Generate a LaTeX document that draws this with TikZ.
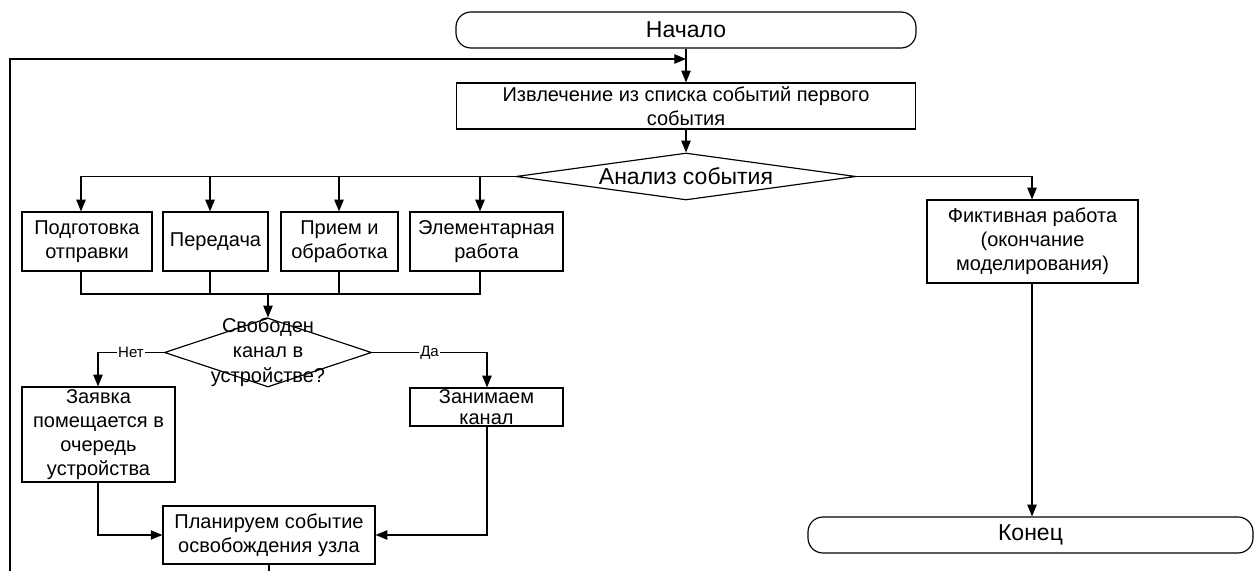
\documentclass[tikz,border=0pt]{standalone}
\usepackage{fontspec}
\setmainfont{Liberation Sans}
\usetikzlibrary{arrows.meta,shapes.geometric}
\begin{document}
\begin{tikzpicture}[x=0.6pt,y=-0.6pt,
  line width=0.7pt,
  box/.style={draw, rectangle, inner sep=0pt, align=center, font=\fontsize{12}{14.4}\selectfont},
  term/.style={draw, rectangle, rounded corners=9pt, inner sep=0pt, font=\fontsize{13.8}{16}\selectfont},
  dia/.style={draw, diamond, inner sep=0pt},
  dtext/.style={inner sep=0pt, align=center},
  lbl/.style={fill=white, inner sep=1pt, font=\fontsize{9}{10}\selectfont},
  arr/.style={-{Triangle[length=7pt,width=5.6pt]}}
]
\useasboundingbox (0,0) rectangle (1254,571);
\clip (0,0) rectangle (1254,571);

% nodes
\node[term, minimum width=276pt, minimum height=21.6pt] (start) at (686,30) {Начало};
\node[box, minimum width=275.4pt, minimum height=27.6pt] (extract) at (686,106) {Извлечение из списка событий первого\\события};
\node[dia, minimum width=204pt, minimum height=28.2pt] (analyze) at (686,176.5) {};
\node[dtext, font=\fontsize{13.8}{16}\selectfont] (analyzet) at (analyze) {Анализ события};

\node[box, minimum width=78pt, minimum height=35.4pt] (prep) at (87,241.5) {Подготовка\\отправки};
\node[box, minimum width=63pt, minimum height=35.4pt] (trans) at (215.5,241.5) {Передача};
\node[box, minimum width=70.2pt, minimum height=35.4pt] (recv) at (339.5,241.5) {Прием и\\обработка};
\node[box, minimum width=91.8pt, minimum height=35.4pt] (elem) at (486.5,241.5) {Элементарная\\работа};

\node[dia, minimum width=124.2pt, minimum height=41.4pt] (free) at (268,352.5) {};
\node[dtext, font=\fontsize{12}{15}\selectfont] (freet) at (free) {Свободен\\канал в\\устройстве?};

\node[box, minimum width=91.8pt, minimum height=57pt] (queue) at (98.5,434.5) {Заявка\\помещается в\\очередь\\устройства};
\node[box, minimum width=91.8pt, minimum height=22.8pt, font=\fontsize{12}{12.6}\selectfont] (occupy) at (486.5,407) {Занимаем\\канал};
\node[box, minimum width=127.2pt, minimum height=34.8pt] (plan) at (269,535) {Планируем событие\\освобождения узла};

\node[box, minimum width=126.6pt, minimum height=49.8pt] (fict) at (1032.5,241.5) {Фиктивная работа\\(окончание\\моделирования)};
\node[term, minimum width=267pt, minimum height=21.6pt] (finish) at (1030.5,535) {Конец};

% coordinates
\coordinate (top) at (686,59);
\coordinate (lt) at (10,59);
\coordinate (lb) at (10,600);
\coordinate (ja) at (81,176.5);
\coordinate (jb) at (210,176.5);
\coordinate (jc) at (339,176.5);
\coordinate (jd) at (480,176.5);
\coordinate (ka) at (81,294);
\coordinate (kb) at (210,294);
\coordinate (kc) at (339,294);
\coordinate (kd) at (480,294);
\coordinate (km) at (268,294);
\coordinate (jn) at (98,352.5);
\coordinate (jy) at (487,352.5);
\coordinate (jr) at (1032,176.5);

% connectors
\draw[arr] (start.south) -- (extract.north);
\draw[arr] (extract.south) -- (analyze.north);
\draw (analyze.west) -- (ja);
\draw[arr] (ja) -- (ja |- prep.north);
\draw[arr] (jb) -- (jb |- trans.north);
\draw[arr] (jc) -- (jc |- recv.north);
\draw[arr] (jd) -- (jd |- elem.north);
\draw (ka |- prep.south) -- (ka) -- (kd) -- (kd |- elem.south);
\draw (kb |- trans.south) -- (kb);
\draw (kc |- recv.south) -- (kc);
\draw[arr] (km) -- (free.north);
\draw[arr] (free.west) -- node[lbl] {Нет} (jn) -- (jn |- queue.north);
\draw[arr] (free.east) -- node[lbl] {Да} (jy) -- (jy |- occupy.north);
\draw[arr] (queue.south -| jn) -- (jn |- plan.west) -- (plan.west);
\draw[arr] (occupy.south -| jy) -- (jy |- plan.east) -- (plan.east);
\draw[arr] (plan.south) -- (plan.south |- lb) -- (lb) -- (lt) -- (top);
\draw[arr] (analyze.east) -- (jr) -- (jr |- fict.north);
\draw[arr] (fict.south -| jr) -- (jr |- finish.north);
\end{tikzpicture}
\end{document}
